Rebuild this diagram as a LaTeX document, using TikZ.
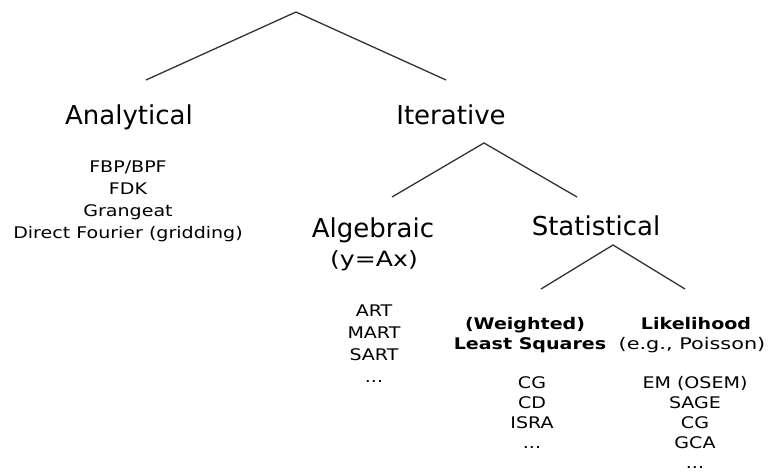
\documentclass[tikz,border=0pt]{standalone}
\usepackage{fontspec}
\setmainfont{DejaVu Sans}
\newfontfamily\smfont[FakeStretch=1.19]{DejaVu Sans}
\newfontfamily\midfont[FakeStretch=1.2]{DejaVu Sans}
\newfontfamily\wfont[FakeStretch=1.3]{DejaVu Sans}
\begin{document}
\begin{tikzpicture}[x=1bp,y=-1bp,
  branch/.style={draw=black!80, line width=1.3bp},
  big/.style={inner sep=0pt, anchor=base, font=\fontsize{26bp}{30bp}\selectfont},
  small/.style={inner sep=0pt, anchor=base, font=\smfont\fontsize{16bp}{20bp}\selectfont},
  smallb/.style={inner sep=0pt, anchor=base, font=\smfont\bfseries\fontsize{16bp}{20bp}\selectfont},
  mid/.style={inner sep=0pt, anchor=base, font=\midfont\fontsize{21bp}{24bp}\selectfont},
  midw/.style={inner sep=0pt, anchor=base, font=\wfont\fontsize{16bp}{20bp}\selectfont}]
\useasboundingbox[fill=white] (0,0) rectangle (777,475);

% top branch
\coordinate (r0) at (296,12);
\coordinate (r1) at (146,80);
\coordinate (r2) at (446,80);
\draw[branch] (r1) -- (r0) -- (r2);

\node[big] (ana) at (129,125) {Analytical};
\node[big] (ite) at (451,125) {Iterative};

\node[small] (a1) at (128,173) {FBP/BPF};
\node[small] (a2) at (128,195) {FDK};
\node[small] (a3) at (128,217) {Grangeat};
\node[small] (a4) at (128,239) {Direct Fourier (gridding)};

% iterative branch
\coordinate (i0) at (484,143);
\coordinate (i1) at (392,197);
\coordinate (i2) at (577,197);
\draw[branch] (i1) -- (i0) -- (i2);

\node[big] (alg) at (373,238) {Algebraic};
\node[mid] (yax) at (374,267) {(y=Ax)};
\node[big] (sta) at (596,236) {Statistical};

\node[small] (b1) at (374,317) {ART};
\node[small] (b2) at (374,339) {MART};
\node[small] (b3) at (374,361) {SART};
\node[small] (b4) at (374,383) {...};

% statistical branch
\coordinate (s0) at (613,245);
\coordinate (s1) at (541,289);
\coordinate (s2) at (685,289);
\draw[branch] (s1) -- (s0) -- (s2);

\node[smallb] (wls1) at (525,330) {(Weighted)};
\node[smallb] (wls2) at (530,350) {Least Squares};
\node[smallb] (lik1) at (696,330) {Likelihood};
\node[midw] (lik2) at (692,350) {(e.g., Poisson)};

\node[small] (c1) at (532,388) {CG};
\node[small] (c2) at (532,408) {CD};
\node[small] (c3) at (532,428) {ISRA};
\node[small] (c4) at (532,448) {...};

\node[small] (d1) at (695,388) {EM (OSEM)};
\node[small] (d2) at (695,408) {SAGE};
\node[small] (d3) at (695,428) {CG};
\node[small] (d4) at (695,448) {GCA};
\node[small] (d5) at (695,468) {...};
\end{tikzpicture}
\end{document}
